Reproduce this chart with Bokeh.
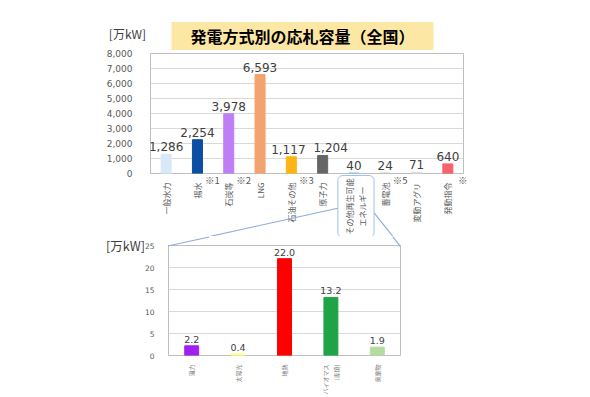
import math
from bokeh.plotting import figure
from bokeh.layouts import column, row
from bokeh.models import (Label, NumeralTickFormatter, FixedTicker, Range1d,
                          ColumnDataSource)
from bokeh.core.properties import value
from bokeh.embed import file_html
from bokeh.resources import INLINE

# ---------------- data ----------------
title_text = "発電方式別の応札容量（全国）"
unit_text = "[万kW]"

categories = ["一般水力", "揚水", "石炭等", "LNG", "石油その他", "原子力",
              "その他再生可能エネルギー", "蓄電池", "変動アグリ", "発動指令"]
capacity = [1286, 2254, 3978, 6593, 1117, 1204, 40, 24, 71, 640]
bar_colors = ["#d9e8f7", "#0c4ea3", "#c07ef6", "#f3a36f", "#fdb516", "#666666",
              "#9dc3e6", "#bfbfbf", "#d9d9d9", "#f6626e"]
notes = ["", "※1", "※2", "", "※3", "", "※4", "※5", "", "※"]
top_ticks = [0, 1000, 2000, 3000, 4000, 5000, 6000, 7000, 8000]
boxed_category = "その他再生可能エネルギー"
boxed_text = "その他再生可能\nエネルギー"

sub_categories = ["風力", "太陽光", "地熱", "バイオマス\n(専焼)", "廃棄物"]
sub_capacity = [2.2, 0.4, 22.0, 13.2, 1.9]
sub_colors = ["#a020f0", "#ffff8c", "#ff0000", "#1ea446", "#b6dba0"]
sub_ticks = [0, 5, 10, 15, 20, 25]

# styling (value-label nudges in pixels, to avoid overlaps as in the original)
label_nudge = [0, 0, 0, 0, -3, 8, 0, 0, 0, 0]

JP = "Noto Sans CJK JP"
NUM = "DejaVu Sans"
GRID = "#d9d9d9"
TXT = "#595959"
LINE = "#8eaadb"


def style_axes(p):
    for ax in (p.xaxis, p.yaxis):
        ax.axis_line_color = None
        ax.major_tick_line_color = None
        ax.minor_tick_line_color = None
    p.xgrid.grid_line_color = None
    p.ygrid.grid_line_color = GRID
    p.outline_line_color = "#bfbfbf"
    p.background_fill_color = "white"
    p.border_fill_color = "white"


def line_label(x, y, dx, dy, angle, half):
    # a thin filled box rotated along the callout direction
    return Label(x=x, y=y, x_offset=dx, y_offset=dy, text=" ", angle=angle,
                 text_align="center", text_baseline="middle", text_font_size="1px",
                 background_fill_color=LINE, padding=(half, 0))


# ---------------- top chart ----------------
idx = list(range(len(categories)))
src1 = ColumnDataSource(dict(x=idx, val=capacity, col=bar_colors,
                             lab=[f"{v:,}" for v in capacity], dx=label_nudge))

p1 = figure(x_range=Range1d(-0.5, len(categories) - 0.5), y_range=Range1d(0, 8000),
            width=590, height=236, output_backend="svg", toolbar_location=None,
            min_border_left=150, min_border_right=127, min_border_top=53,
            min_border_bottom=63)
p1.vbar(x="x", top="val", width=0.32, color="col", source=src1)
p1.text(x="x", y="val", text="lab", source=src1, text_align="center",
        text_baseline="bottom", x_offset="dx", y_offset=-3, text_font=value(NUM),
        text_font_size="12px", text_color="#404040")

p1.yaxis.ticker = FixedTicker(ticks=top_ticks)
p1.yaxis.formatter = NumeralTickFormatter(format="0,0")
p1.yaxis.major_label_text_font = NUM
p1.yaxis.major_label_text_font_size = "9px"
p1.yaxis.major_label_text_color = TXT
p1.yaxis.major_label_standoff = 12
p1.xaxis.ticker = FixedTicker(ticks=idx)
p1.xaxis.major_label_overrides = {i: ("" if c == boxed_category else c)
                                  for i, c in enumerate(categories)}
p1.xaxis.major_label_orientation = math.pi / 2
p1.xaxis.major_label_text_font = JP
p1.xaxis.major_label_text_font_size = "8px"
p1.xaxis.major_label_text_color = TXT
p1.xaxis.major_label_standoff = 3
style_axes(p1)

# chart title in a yellow box
p1.title.text = title_text
p1.title.align = "left"
p1.title.offset = 21
p1.title.text_font = JP
p1.title.text_font_size = "16px"
p1.title.text_font_style = "bold"
p1.title.text_color = "#000000"
p1.title.background_fill_color = "#fde7a5"
p1.title.padding = (19, 2)
p1.title.standoff = 7

# unit label
p1.add_layout(Label(x=-0.5, y=8000, x_offset=-23, y_offset=20, text=unit_text,
                    text_align="center", text_baseline="middle", text_font=JP,
                    text_font_size="12px", text_color="#404040"), "left")

# notes next to category labels
for i, n in enumerate(notes):
    if n:
        dx = 10 if n == "※4" else 15
        p1.add_layout(Label(x=i, y=0, x_offset=dx, y_offset=-6,
                            text=n, text_align="center", text_baseline="middle",
                            text_font=JP, text_font_size="9.5px", text_color=TXT), "right")

# boxed label for the "other renewables" category
k = categories.index(boxed_category)
p1.add_layout(Label(x=k, y=0, x_offset=2, y_offset=-33,
                    text=boxed_text, angle=math.pi / 2,
                    text_align="center", text_baseline="middle", text_font=JP,
                    text_font_size="8px", text_color=TXT,
                    border_line_color="#9dc3e6", border_line_width=1,
                    background_fill_color="white", border_radius=5, padding=(3, 6)), "right")

# callout lines, upper part
p1.add_layout(line_label(k, 0, -99, -53, 0.2175, 88), "below")
p1.add_layout(line_label(k, 0, 31, -53, -0.9025, 24), "below")

# ---------------- bottom chart ----------------
sidx = list(range(len(sub_categories)))
src2 = ColumnDataSource(dict(x=sidx, val=sub_capacity, col=sub_colors,
                             lab=[f"{v:.1f}" for v in sub_capacity]))
p2 = figure(x_range=Range1d(-0.5, len(sub_categories) - 0.5), y_range=Range1d(0, 25),
            width=590, height=161, output_backend="svg", toolbar_location=None,
            min_border_left=168, min_border_right=190, min_border_top=9,
            min_border_bottom=42)
p2.vbar(x="x", top="val", width=0.3, color="col", source=src2)
p2.text(x="x", y="val", text="lab", source=src2, text_align="center",
        text_baseline="bottom", y_offset=-3, text_font=value(NUM),
        text_font_size="9.5px", text_color="#404040")
p2.yaxis.ticker = FixedTicker(ticks=sub_ticks)
p2.yaxis.major_label_text_font = NUM
p2.yaxis.major_label_text_font_size = "7.5px"
p2.yaxis.major_label_text_color = TXT
p2.yaxis.major_label_standoff = 8
p2.xaxis.ticker = FixedTicker(ticks=sidx)
p2.xaxis.major_label_overrides = {i: c for i, c in enumerate(sub_categories)}
p2.xaxis.major_label_orientation = math.pi / 2
p2.xaxis.major_label_text_font = JP
p2.xaxis.major_label_text_font_size = "6px"
p2.xaxis.major_label_text_color = "#7f7f7f"
p2.xaxis.major_label_standoff = 3
style_axes(p2)

p2.add_layout(Label(x=-0.5, y=25, x_offset=-43, y_offset=0, text=unit_text,
                    text_align="center", text_baseline="middle", text_font=JP,
                    text_font_size="12.5px", text_color="#404040"), "left")
# callout lines, lower part (end at the frame's top corners)
p2.add_layout(line_label(-0.5, 25, 20, 4, 0.2175, 21), "left")
p2.add_layout(line_label(len(sub_categories) - 0.5, 25, -4, 4, -0.9025, 6), "left")

layout = column(p1, row(p2), spacing=0)
open("out.html", "w").write(file_html(layout, INLINE))
